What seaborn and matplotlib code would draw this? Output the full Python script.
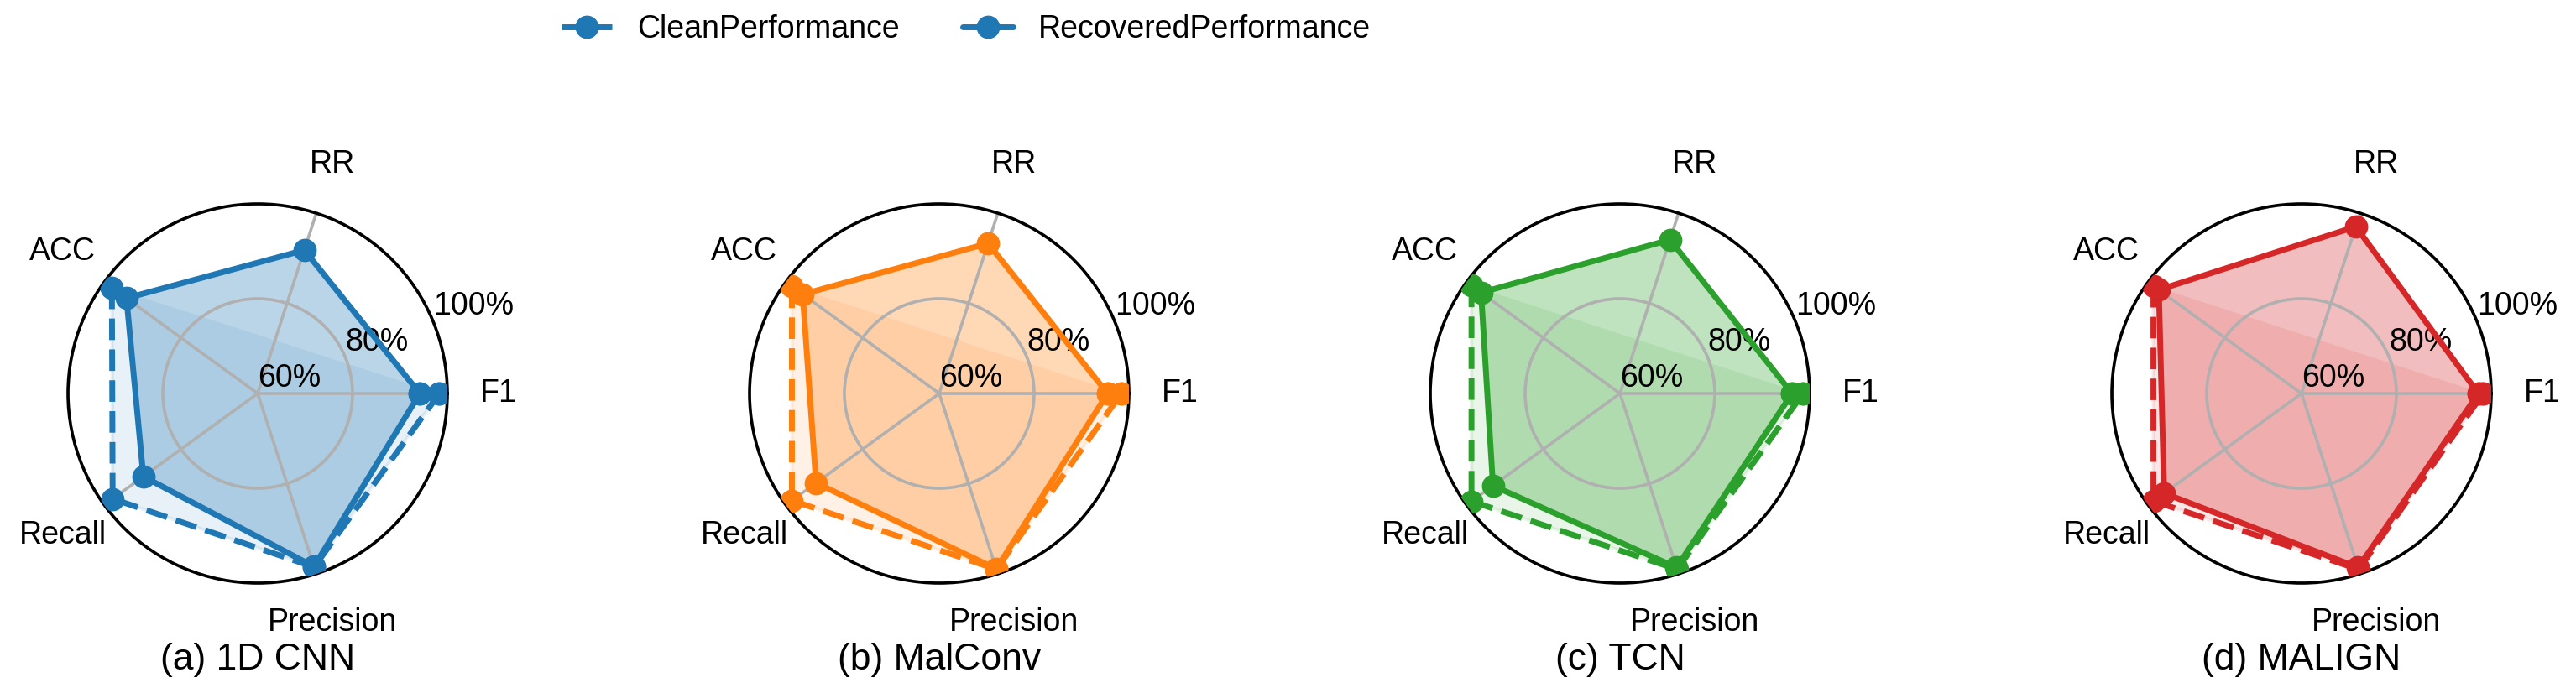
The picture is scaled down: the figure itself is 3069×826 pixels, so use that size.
import numpy as np
import matplotlib
matplotlib.use("Agg")
import matplotlib.pyplot as plt
import seaborn as sns
from matplotlib.lines import Line2D

# ---------------- data ----------------
metrics = ["F1", "RR", "ACC", "Recall", "Precision"]
titles = ["(a) 1D CNN", "(b) MalConv", "(c) TCN", "(d) MALIGN"]
r_ticks = [0.6, 0.8, 1.0]
r_tick_labels = ["60%", "80%", "100%"]

nan = np.nan
# order: F1, RR, ACC, Recall, Precision (clean performance has no RR)
clean_1dcnn = [0.983, nan, 0.980, 0.978, 0.985]
recovered_1dcnn = [0.942, 0.918, 0.942, 0.898, 0.984]
clean_malconv = [0.984, nan, 0.984, 0.984, 0.990]
recovered_malconv = [0.955, 0.933, 0.956, 0.921, 0.989]
clean_tcn = [0.986, nan, 0.987, 0.987, 0.990]
recovered_tcn = [0.963, 0.941, 0.962, 0.931, 0.986]
clean_malign = [0.983, nan, 0.986, 0.986, 0.990]
recovered_malign = [0.973, 0.970, 0.972, 0.958, 0.986]

clean_all = [clean_1dcnn, clean_malconv, clean_tcn, clean_malign]
recovered_all = [recovered_1dcnn, recovered_malconv, recovered_tcn, recovered_malign]

# ---------------- style ----------------
sns.set_style("white")
plt.rcParams["font.family"] = ["Liberation Sans", "DejaVu Sans"]
plt.rcParams.update({"text.color": "black", "xtick.color": "black",
                     "ytick.color": "black", "axes.labelcolor": "black",
                     "axes.axisbelow": "line"})
palette = sns.color_palette("tab10")

W, H = 3069, 826
DPI = 200
fig = plt.figure(figsize=(W / DPI, H / DPI), dpi=DPI)

centers_x = [307, 1119, 1930, 2742]
cy = 469
R = 226
FS = 13.5

n = len(metrics)
angles = np.linspace(0, 2 * np.pi, n, endpoint=False)
theta = np.concatenate([angles, angles[:1]])

for i in range(4):
    cx = centers_x[i]
    ax = fig.add_axes([(cx - R) / W, (H - cy - R) / H, 2 * R / W, 2 * R / H],
                      projection="polar")
    ax.set_axisbelow("line")
    col = palette[i]
    rec = np.array(recovered_all[i] + recovered_all[i][:1])
    cln = np.array(clean_all[i] + clean_all[i][:1])

    ax.fill(theta, cln, color=col, alpha=0.1, lw=1.5)
    ax.fill(theta, rec, color=col, alpha=0.3, lw=0)
    ax.plot(theta, cln, color=col, lw=2.5, ls="--", marker="o", ms=9, zorder=3)
    ax.plot(theta, rec, color=col, lw=2.5, ls="-", marker="o", ms=9, zorder=3)

    ax.set_ylim(0.6, 1.0)
    ax.set_yticks(r_ticks)
    ax.set_yticklabels(r_tick_labels, fontsize=FS, color="black")
    ax.set_rlabel_position(22.5)
    ax.set_xticks(angles)
    ax.set_xticklabels(metrics, fontsize=FS, color="black")
    ax.tick_params(axis="x", pad=11.5)
    ax.grid(True, color="#b0b0b0", lw=1.3)
    ax.spines["polar"].set_color("black")
    ax.spines["polar"].set_linewidth(1.3)
    ax.set_facecolor("white")

    ax.text(0.5, -0.228, titles[i], transform=ax.transAxes, ha="center",
            va="baseline", fontsize=16, color="black")

handles = [
    Line2D([0], [0], color=palette[0], lw=2.5, ls="--", marker="o", ms=9),
    Line2D([0], [0], color=palette[0], lw=2.5, ls="-", marker="o", ms=9),
]
fig.legend(handles, ["CleanPerformance", "RecoveredPerformance"], loc="center",
           bbox_to_anchor=(0.375, 0.958), ncol=2, frameon=False, fontsize=FS,
           handlelength=1.6)

fig.savefig("out.png", dpi=DPI)
